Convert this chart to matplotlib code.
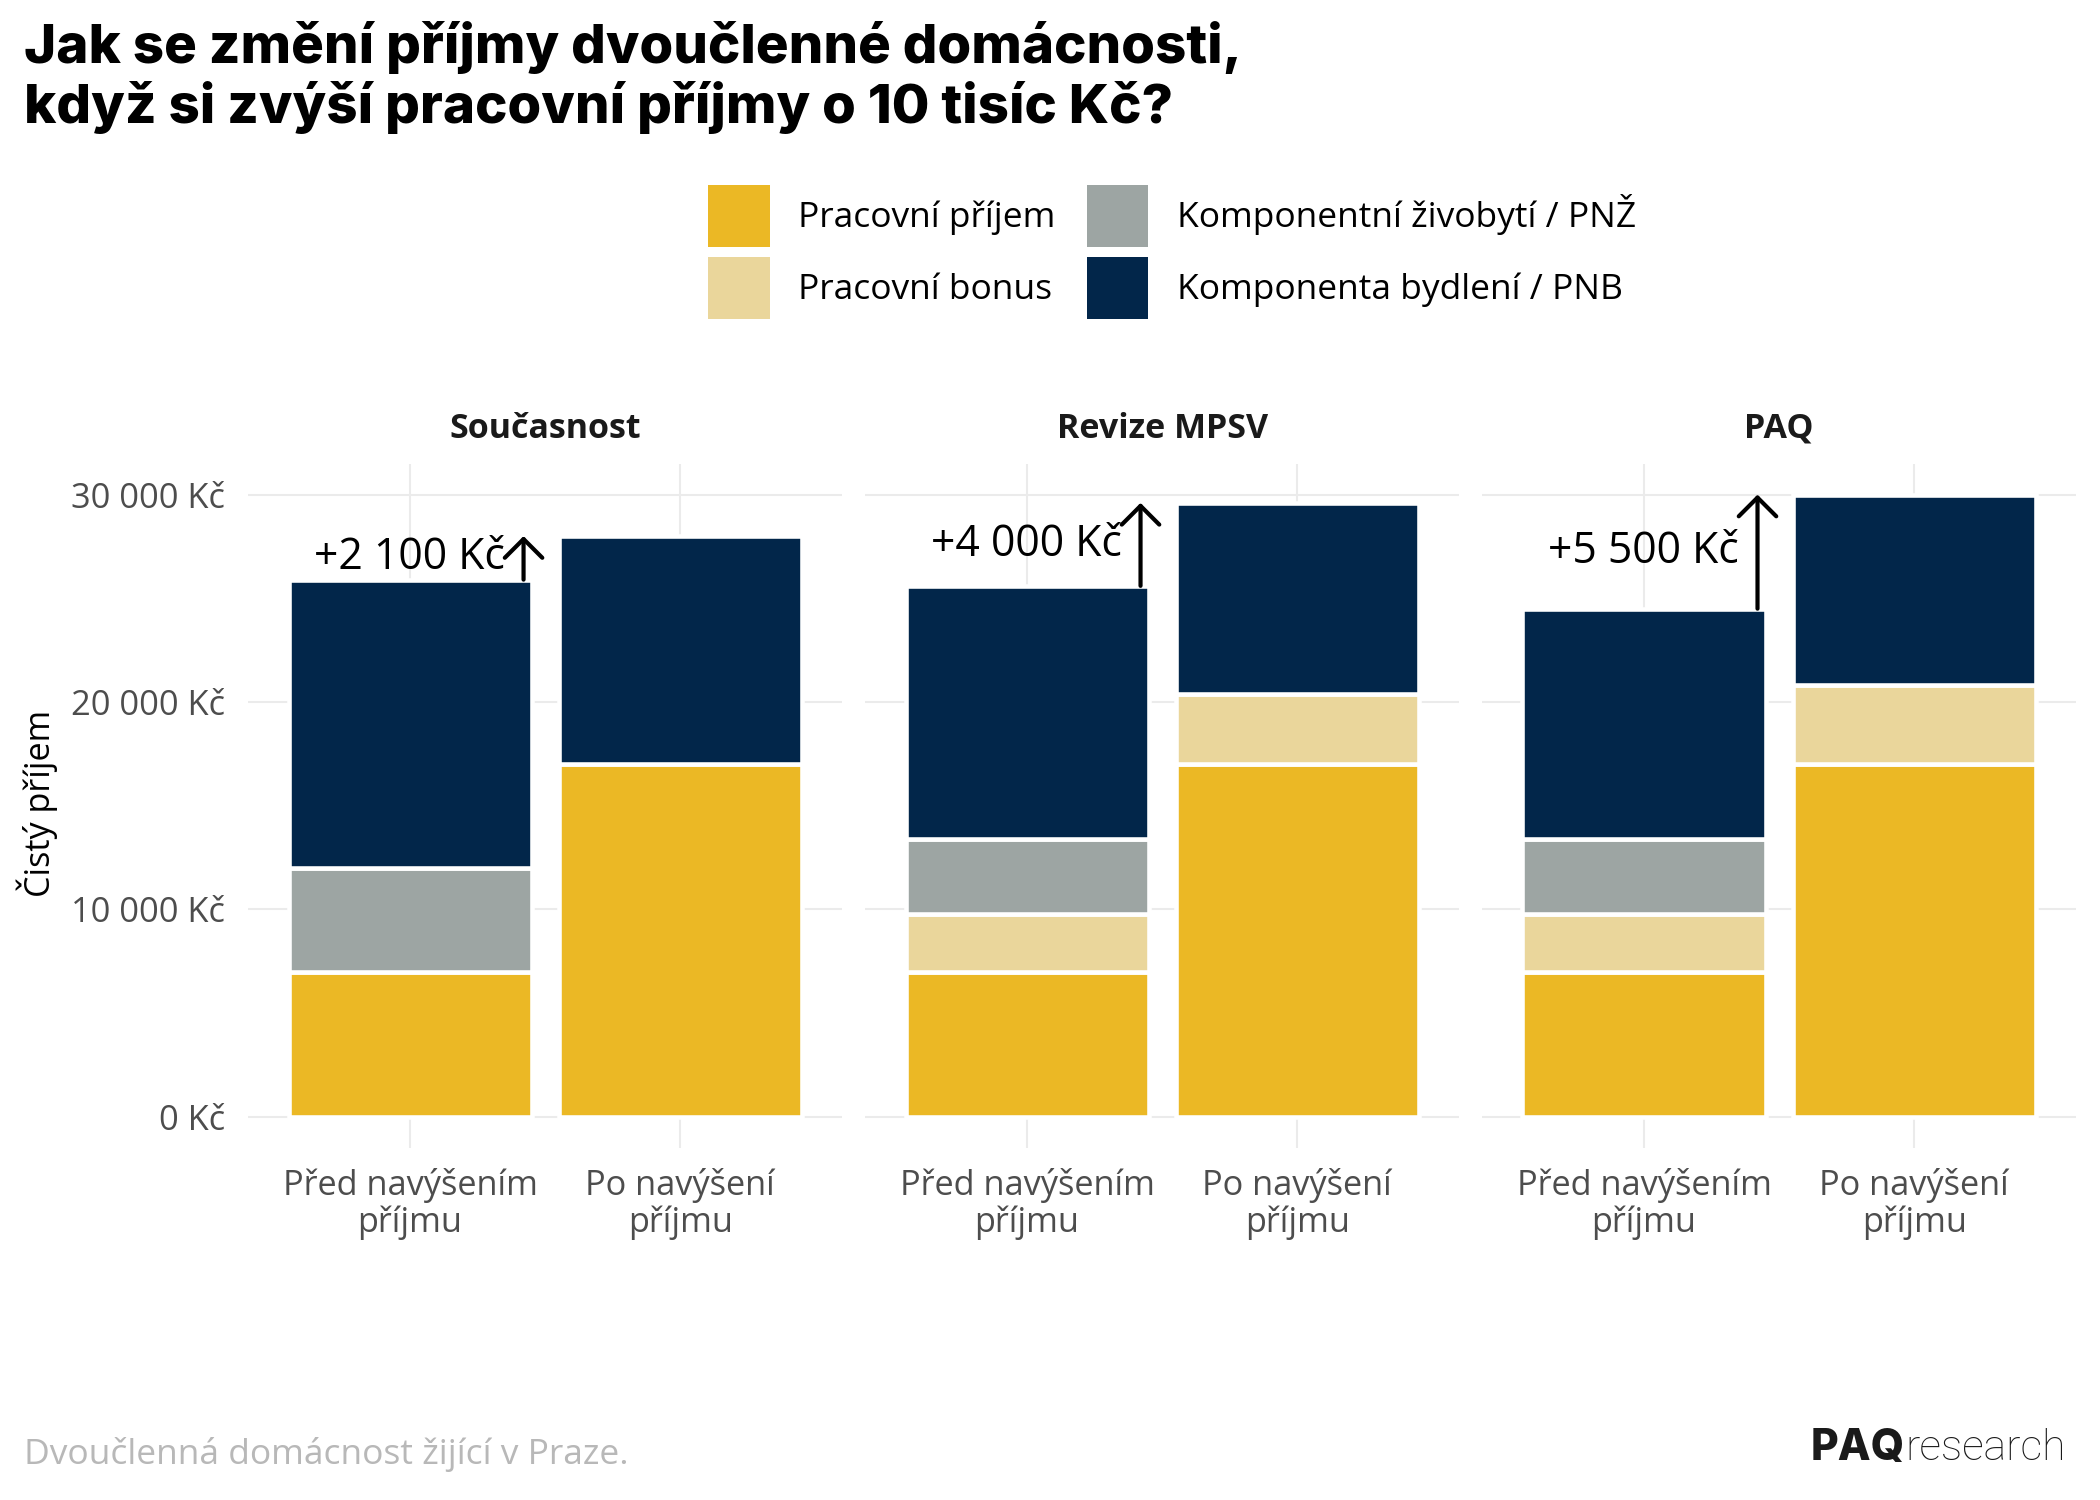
import matplotlib
matplotlib.use("Agg")
import matplotlib.pyplot as plt
from matplotlib.patches import Patch

# ---------------- data ----------------
panels = ["Současnost", "Revize MPSV", "PAQ"]
groups = ["Před navýšením\npříjmu", "Po navýšení\npříjmu"]
series = ["Pracovní příjem", "Pracovní bonus",
          "Komponentní živobytí / PNŽ", "Komponenta bydlení / PNB"]
colors = ["#EBB825", "#EAD69B", "#9DA5A3", "#02264A"]

pracovni_prijem = [[7000, 17000], [7000, 17000], [7000, 17000]]
pracovni_bonus = [[0, 0], [2800, 3400], [2800, 3800]]
zivobyti = [[5000, 0], [3600, 0], [3600, 0]]
bydleni = [[13900, 11000], [12200, 9200], [11100, 9200]]

increase = [2100, 4000, 5500]
increase_labels = ["+2 100 Kč", "+4 000 Kč", "+5 500 Kč"]

yticks = [0, 10000, 20000, 30000]
ytick_labels = ["0 Kč", "10 000 Kč", "20 000 Kč", "30 000 Kč"]

title_lines = ["Jak se změní příjmy dvoučlenné domácnosti,",
               "když si zvýší pracovní příjmy o 10 tisíc Kč?"]
y_title = "Čistý příjem"
caption = "Dvoučlenná domácnost žijící v Praze."

# ---------------- style ----------------
FONT = ["Open Sans", "DejaVu Sans"]
plt.rcParams["font.family"] = FONT
TICK_COL = "#4D4D4D"
GRID_COL = "#EBEBEB"

fig = plt.figure(figsize=(14, 10), dpi=150)
fig.patch.set_facecolor("white")

lefts = [0.1181, 0.4119, 0.7057]
width = 0.2830
bottom = 0.2347
height = 0.4563

stack = [pracovni_prijem, pracovni_bonus, zivobyti, bydleni]

for p, name in enumerate(panels):
    ax = fig.add_axes([lefts[p], bottom, width, height])
    ax.set_xlim(-0.6, 1.6)
    ax.set_ylim(-1500, 31500)
    ax.set_axisbelow(True)
    for s in ax.spines.values():
        s.set_visible(False)
    ax.set_yticks(yticks)
    ax.set_xticks([0, 1])
    ax.grid(True, color=GRID_COL, linewidth=1.0)
    ax.tick_params(length=0)
    ax.tick_params(axis="y", pad=11, labelsize=16.5, labelcolor=TICK_COL)
    ax.tick_params(axis="x", pad=9.5, labelsize=16.5, labelcolor=TICK_COL)
    ax.set_xticklabels(groups, linespacing=1.12)
    if p == 0:
        ax.set_yticklabels(ytick_labels)
    else:
        ax.set_yticklabels([])

    base = [0, 0]
    for k, ser in enumerate(stack):
        for g in range(2):
            v = ser[p][g]
            if v > 0:
                ax.bar(g, v, bottom=base[g], width=0.9, color=colors[k],
                       edgecolor="white", linewidth=2.2)
                base[g] += v

    total_before = base[0]
    ax.annotate("", xy=(0.42, total_before + increase[p]),
                xytext=(0.42, total_before),
                arrowprops=dict(arrowstyle="->,head_length=0.45,head_width=0.45",
                                lw=2.0, color="black", shrinkA=0, shrinkB=0,
                                mutation_scale=20))
    ax.text(0.35, total_before + increase[p] / 2, increase_labels[p],
            ha="right", va="center", fontsize=20.5, color="black")

    pos = ax.get_position()
    fig.text(pos.x0 + pos.width / 2, 1 - 428.5 / 1500, name,
             ha="center", va="center", fontsize=16.3, fontweight="bold",
             color="#1A1A1A")

# y axis title
fig.text(37.5 / 2100, 1 - 803 / 1500, y_title, rotation=90,
         ha="center", va="center", fontsize=16.4, color="black")

# title
for i, line in enumerate(title_lines):
    fig.text(24 / 2100, 1 - (63 + 60 * i) / 1500, line, ha="left",
             va="baseline", fontsize=26.2, fontweight="heavy",
             family=["Inter", "DejaVu Sans"], color="black")

# legend
handles = [Patch(facecolor=c, edgecolor="none") for c in colors]
fig.legend(handles, series, ncol=2, loc="upper left",
           bbox_to_anchor=(708 / 2100, 1 - 185 / 1500), frameon=False,
           borderpad=0, borderaxespad=0, fontsize=17,
           handlelength=1.75, handleheight=2.3, handletextpad=0.8,
           columnspacing=0.87, labelspacing=0.3)

# caption
fig.text(24 / 2100, 1 - 1455 / 1500, caption, ha="left", va="center",
         fontsize=17, color="#B8B8B8")

# logo
r_txt = fig.text(2066 / 2100, 1 - 1448 / 1500, "research", ha="right",
                 va="center", fontsize=20.5, family=["Roboto", "DejaVu Sans"],
                 fontweight="light", color="#1A1A1A")
fig.canvas.draw()
bb = r_txt.get_window_extent(renderer=fig.canvas.get_renderer())
x_left = bb.x0 / fig.bbox.width
fig.text(x_left - 0.0005, 1 - 1448 / 1500, "PAQ", ha="right", va="center",
         fontsize=20.5, family=["Inter", "DejaVu Sans"], fontweight="heavy",
         color="#1A1A1A")

fig.savefig("out.png", dpi=150, facecolor="white")
